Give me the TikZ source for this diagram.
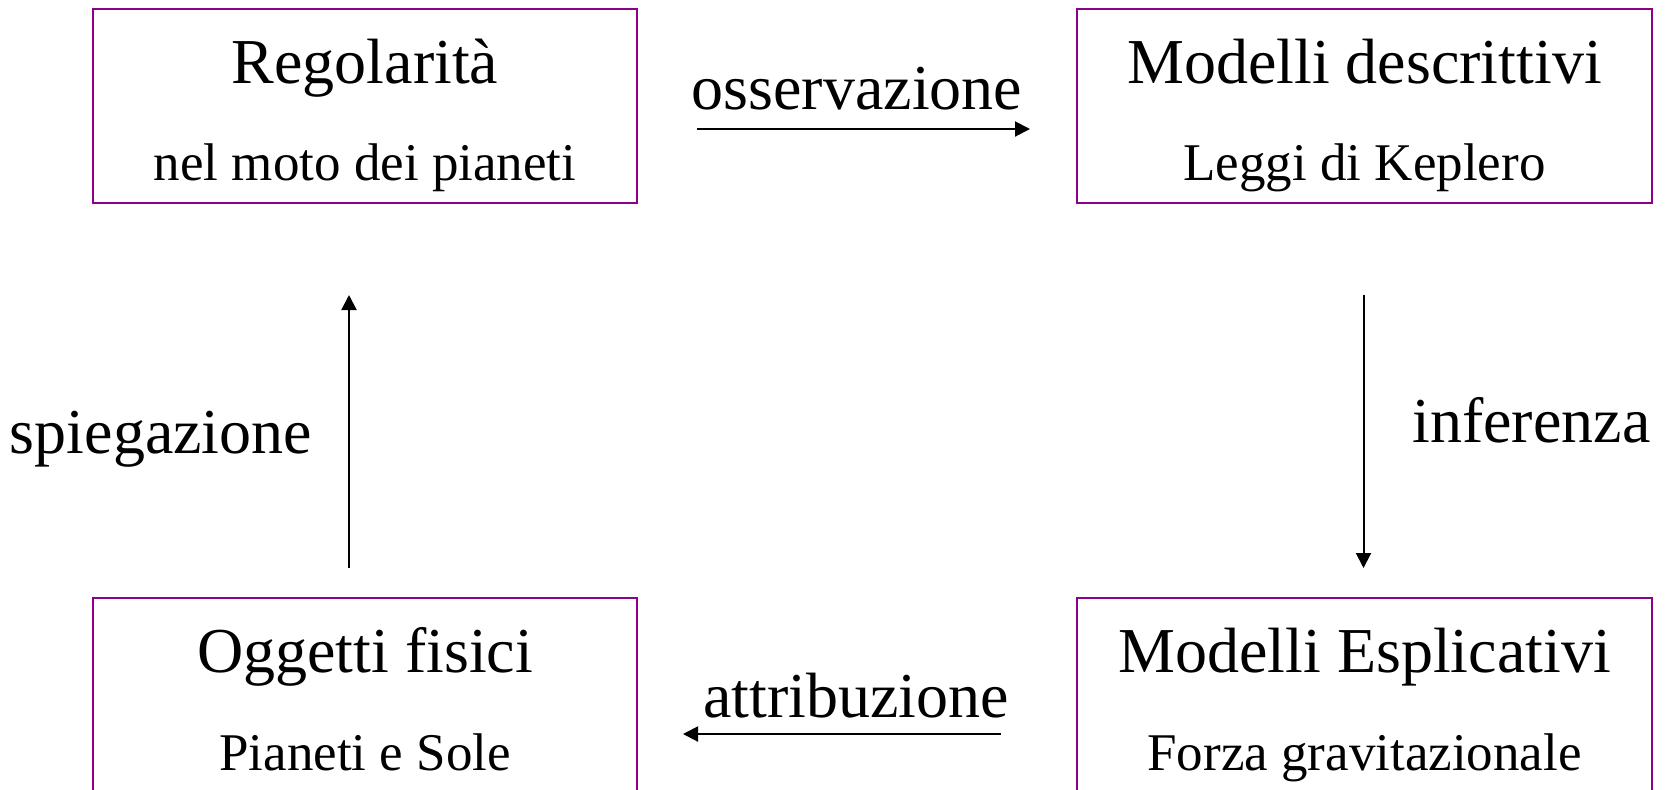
\documentclass[tikz,border=0pt]{standalone}
\usepackage{fontspec}
\setmainfont{Liberation Serif}
\usetikzlibrary{arrows.meta}
\definecolor{boxpurple}{RGB}{140,0,140}
\tikzset{
  box/.style={draw=boxpurple, line width=1pt, rectangle, inner sep=0pt},
  title/.style={anchor=base, inner sep=0pt, font=\fontsize{32}{38}\selectfont},
  sub/.style={anchor=base, inner sep=0pt, font=\fontsize{26.5}{32}\selectfont},
  lbl/.style={anchor=base, inner sep=0pt, font=\fontsize{32}{38}\selectfont},
  conn/.style={line width=1pt, -{Triangle[length=7.5pt,width=7.5pt]}}
}
\begin{document}
\begin{tikzpicture}[x=0.5pt, y=-0.5pt]
\useasboundingbox (0,0) rectangle (1665,789);
\begin{scope}
\clip (0,0) rectangle (1665,789);
% boxes
\node[box, minimum width=272pt, minimum height=97pt] (reg) at (365,105.5) {};
\node[box, minimum width=287.5pt, minimum height=97pt] (desc) at (1364.5,105.5) {};
\node[box, minimum width=272pt, minimum height=97pt] (ogg) at (365,695) {};
\node[box, minimum width=287.5pt, minimum height=97pt] (espl) at (1364.5,695) {};
\end{scope}
% texts
\node[title] (regT) at (365,83) {Regolarità};
\node[sub] (regS) at (365,180.5) {nel moto dei pianeti};
\node[title] (descT) at (1364.5,83) {Modelli descrittivi};
\node[sub] (descS) at (1364.5,180.5) {Leggi di Keplero};
\node[title] (oggT) at (365,672) {Oggetti fisici};
\node[sub] (oggS) at (365,770) {Pianeti e Sole};
\node[title] (esplT) at (1364.5,672) {Modelli Esplicativi};
\node[sub] (esplS) at (1364.5,770) {Forza gravitazionale};
% connectors
\coordinate (o1) at (697,129);
\coordinate (o2) at (1030,129);
\coordinate (i1) at (1363.5,295);
\coordinate (i2) at (1363.5,568);
\coordinate (a1) at (1001,734);
\coordinate (a2) at (683,734);
\coordinate (s1) at (349,568);
\coordinate (s2) at (349,295);
\draw[conn] (o1) -- (o2);
\draw[conn] (i1) -- (i2);
\draw[conn] (a1) -- (a2);
\draw[conn] (s1) -- (s2);
% labels
\node[lbl] (lo) at (857,109) {osservazione};
\node[lbl, anchor=base west] (li) at (1412,442) {inferenza};
\node[lbl] (la) at (856,717) {attribuzione};
\node[lbl] (ls) at (161,453) {spiegazione};
\end{tikzpicture}
\end{document}
